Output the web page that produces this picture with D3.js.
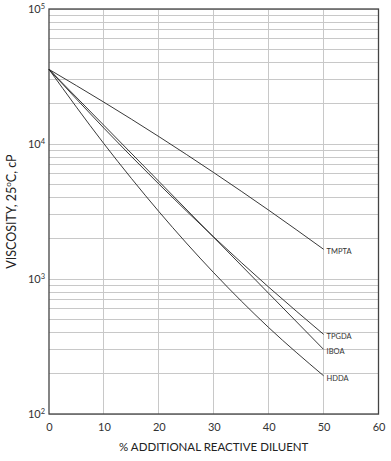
<!DOCTYPE html>
<html><head><meta charset="utf-8">
<script src="https://cdn.jsdelivr.net/npm/d3@7"></script>
<style>body{margin:0;background:#fff}svg{display:block}text{font-family:Lato,"Open Sans",sans-serif}</style>
</head><body><svg id="c" width="391" height="461"></svg>
<script>
const xValues = [0, 10, 20, 30, 40, 50];
const seriesNames = ["TMPTA", "TPGDA", "IBOA", "HDDA"];
const tmpta = [35700, 20400, 11350, 6140, 3235, 1660];
const tpgda = [35700, 13100, 5055, 2046, 871, 389];
const iboa  = [35700, 13750, 5290, 2035, 783, 301];
const hdda  = [35700, 10050, 3162, 1112, 437, 192];
const xTicks = [0, 10, 20, 30, 40, 50, 60];
const yTicks = [100, 1000, 10000, 100000];
const yExps = ["2", "3", "4", "5"];

const svg = d3.select("#c");
const L = 49, R = 378.5, T = 9, B = 414;
const x = d3.scaleLinear().domain([0, 60]).range([L, R]);
const y = d3.scaleLog().domain([100, 100000]).range([B, T]);

// horizontal grid (minor 2..9 per decade)
const minor = [];
for (let d = 100; d < 100000; d *= 10) for (let m = 2; m <= 9; m++) minor.push(d * m);
svg.append("g").selectAll("line").data(minor.concat(yTicks)).join("line")
  .attr("x1", L).attr("x2", R).attr("y1", d => y(d)).attr("y2", d => y(d))
  .attr("stroke", "#c8c8c8").attr("stroke-width", 1).attr("shape-rendering", "crispEdges");
svg.append("g").selectAll("line").data(xTicks.slice(1, -1)).join("line")
  .attr("y1", T).attr("y2", B).attr("x1", d => x(d)).attr("x2", d => x(d))
  .attr("stroke", "#c8c8c8").attr("stroke-width", 1).attr("shape-rendering", "crispEdges");

// frame
svg.append("rect").attr("x", L).attr("y", T).attr("width", R - L).attr("height", B - T)
  .attr("fill", "none").attr("stroke", "#444").attr("stroke-width", 1.3);

// x axis labels
const xa = svg.append("g").attr("transform", `translate(0,${B})`)
  .call(d3.axisBottom(x).tickValues(xTicks).tickSize(0).tickPadding(9));
xa.select(".domain").remove();
xa.selectAll("text").attr("font-size", 11).attr("fill", "#333").attr("font-family", "Lato");

// y axis labels with superscripts
const ya = svg.append("g").attr("transform", `translate(${L},0)`)
  .call(d3.axisLeft(y).tickValues(yTicks).tickSize(0).tickPadding(4).tickFormat(() => ""));
ya.select(".domain").remove();
ya.selectAll(".tick text").each(function(d, i) {
  const t = d3.select(this).attr("font-size", 11).attr("fill", "#333").attr("font-family", "Lato");
  t.append("tspan").text("10");
  t.append("tspan").attr("font-size", 7.5).attr("dy", -4).text(yExps[i]);
});

// titles
svg.append("text").attr("x", x(30)).attr("y", 451).attr("text-anchor", "middle")
  .attr("font-size", 11.5).attr("fill", "#222").text("% ADDITIONAL REACTIVE DILUENT");
const yt = svg.append("text").attr("transform", `translate(16,${(T + B) / 2}) rotate(-90)`)
  .attr("text-anchor", "middle").attr("font-size", 12.5).attr("fill", "#222");
yt.append("tspan").text("VISCOSITY, 25");
yt.append("tspan").attr("font-size", 8).attr("dy", -5).text("o");
yt.append("tspan").attr("dy", 5).text("C, cP");

// curves
const line = d3.line().x((d, i) => x(xValues[i])).y(d => y(d)).curve(d3.curveMonotoneX);
const all = [tmpta, tpgda, iboa, hdda];
svg.append("g").selectAll("path").data(all).join("path")
  .attr("d", line).attr("fill", "none").attr("stroke", "#222").attr("stroke-width", 0.9);

// labels
svg.append("g").selectAll("text").data(all).join("text")
  .attr("x", x(50) + 3).attr("y", d => y(d[d.length - 1]) + 5)
  .attr("font-size", 7.5).attr("fill", "#333").text((d, i) => seriesNames[i]);
</script></body></html>
